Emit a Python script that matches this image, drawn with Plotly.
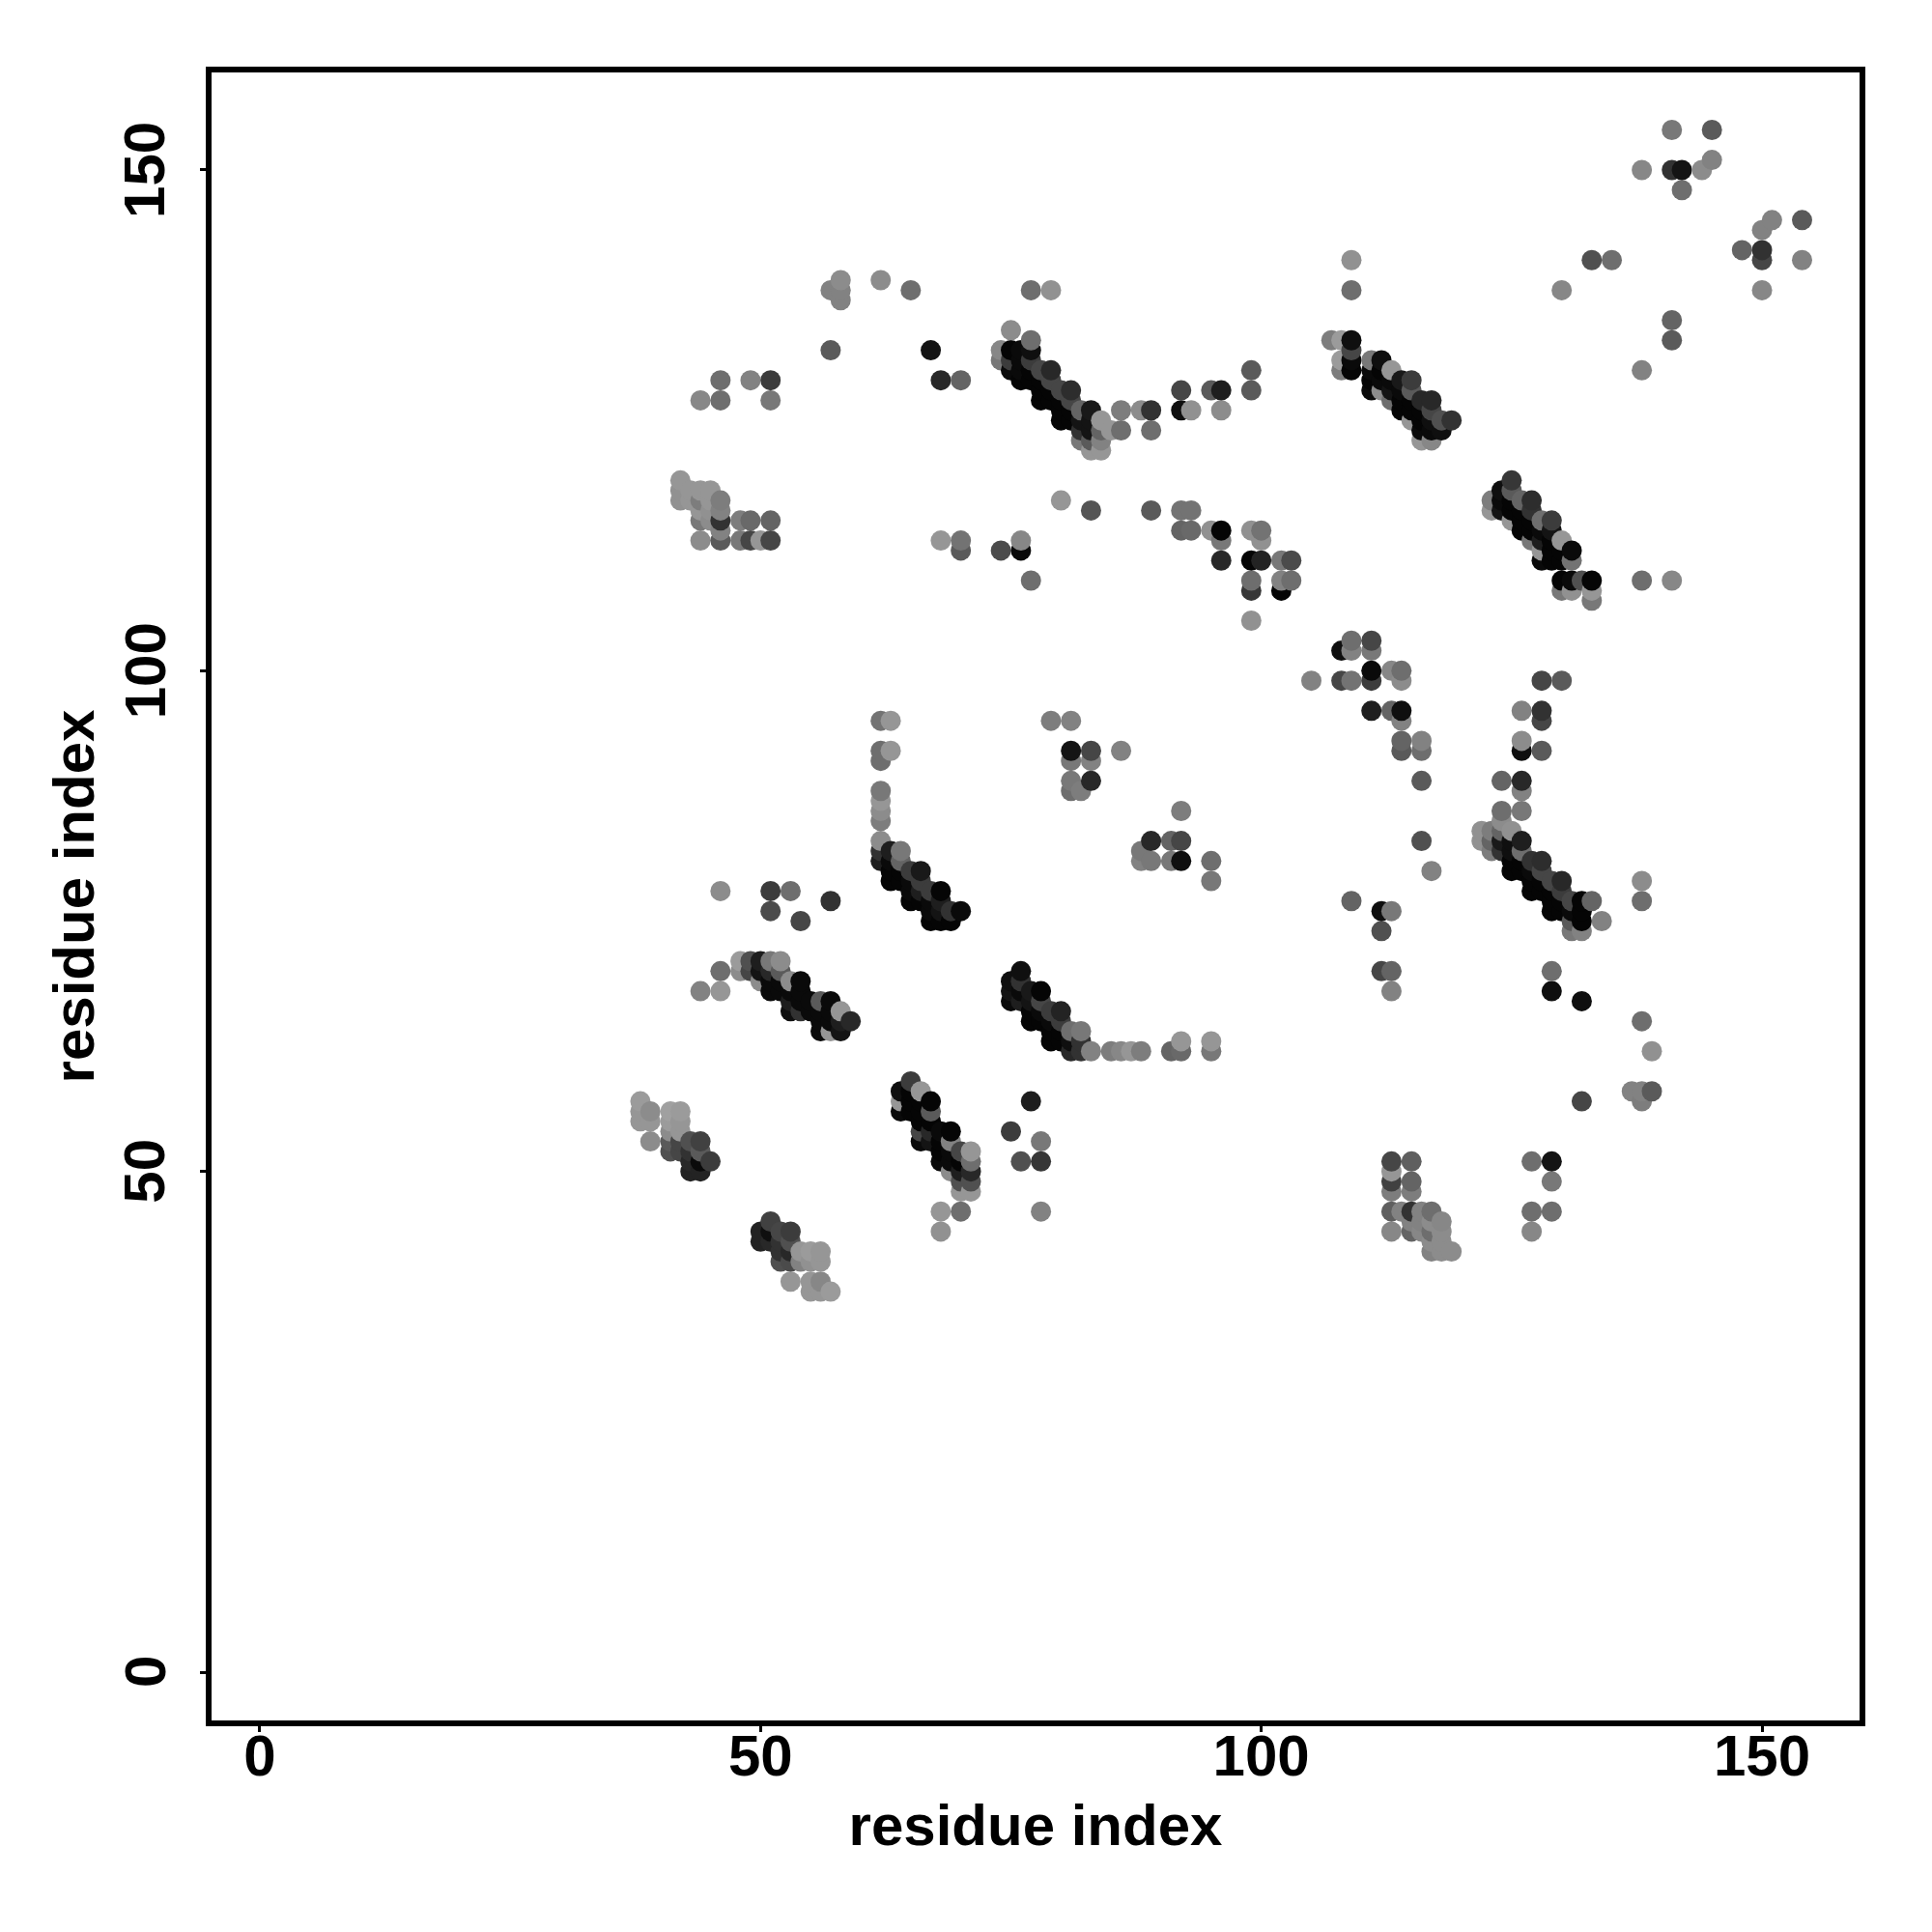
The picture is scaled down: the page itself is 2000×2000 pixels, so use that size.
import plotly.graph_objects as go

# Each record: residue i, residue j, shade (0 = strongest contact, 150 = weakest)
cluster_a = [(38,57,155),(38,56,150),(38,55,150),(39,56,140),(39,55,150),(39,53,140),
 (41,56,160),(41,55,155),(41,54,140),(41,53,90),(41,52,80),
 (42,56,155),(42,55,150),(42,54,150),(42,53,70),(42,52,70),
 (43,53,80),(43,52,50),(43,51,40),(43,50,35),
 (44,53,65),(44,52,90),(44,51,10),(44,50,35),(45,51,60)]
cluster_b = [(50,44,35),(50,43,35),(51,45,65),(51,44,15),(51,43,40),(52,44,70),(52,43,50),(52,42,50),(52,41,80),
 (53,44,60),(53,43,80),(53,42,40),(53,41,75),(53,39,150),(54,42,150),(54,41,130),(55,42,155),(55,41,145),
 (55,39,150),(55,38,150),(56,42,150),(56,41,150),(56,39,135),(56,38,150),(57,38,155)]
cluster_c = [(64,58,15),(64,57,150),(64,56,10),(65,59,60),(65,58,5),(65,57,5),(65,56,5),(66,58,150),(66,57,5),
 (66,56,5),(66,55,5),(66,54,70),(66,53,10),(67,57,5),(67,56,90),(67,55,5),(67,54,40),(67,53,20),
 (68,54,10),(68,53,5),(68,52,5),(68,51,10),(68,46,150),(68,44,145),(69,54,5),(69,53,130),(69,52,10),
 (69,51,10),(69,50,140),(70,52,70),(70,51,5),(70,50,30),(70,49,80),(70,48,150),(70,46,110),
 (71,52,150),(71,51,110),(71,50,40),(71,49,80),(71,48,150)]
cluster_d = [(44,68,130),(46,70,110),(46,68,150),(46,78,140),(48,71,155),(48,70,140),(49,71,80),(49,70,70),
 (50,71,30),(50,70,20),(50,69,140),(51,78,60),(51,76,75),(51,71,120),(51,70,40),(51,69,10),(51,68,10),
 (52,71,140),(52,70,90),(52,69,10),(52,68,10),(53,78,110),(53,69,140),(53,68,10),(53,67,30),(53,66,15),
 (54,75,70),(54,69,10),(54,68,10),(54,67,10),(54,66,50),(55,67,10),(55,66,10),(56,67,90),(56,66,10),
 (56,65,10),(56,64,10),(57,77,50),(57,67,10),(57,66,10),(57,65,10),(57,64,150),(58,66,150),(58,65,30),
 (58,64,20),(59,65,40)]
cluster_e = [(62,95,115),(62,92,110),(62,91,110),(62,88,120),(62,87,150),(62,86,140),(62,85,125),(62,83,140),
 (62,82,50),(62,81,30),(63,95,150),(63,92,150),(63,82,30),(63,81,10),(63,80,5),(63,79,5),(64,82,120),
 (64,81,100),(64,80,5),(64,79,5),(65,80,60),(65,79,10),(65,78,10),(65,77,5),(66,80,25),(66,79,60),
 (66,78,30),(66,77,5),(67,78,60),(67,77,10),(67,76,10),(67,75,5),(68,78,5),(68,77,30),(68,76,20),
 (68,75,5),(69,76,50),(69,75,5),(70,76,10)]
cluster_f = [(75,69,15),(75,68,20),(75,67,10),(75,54,60),(76,70,15),(76,69,50),(76,68,10),(76,67,30),(76,51,80),
 (77,68,25),(77,67,20),(77,66,5),(77,65,5),(77,57,30),(78,68,5),(78,67,70),(78,66,10),(78,65,5),
 (78,53,120),(78,51,55),(78,46,130),(79,66,60),(79,65,10),(79,64,5),(79,63,5),(80,66,35),(80,65,60),
 (80,64,5),(80,63,5),(81,64,110),(81,63,15),(81,62,40),(82,64,120),(82,63,50),(82,62,50),(83,62,130),
 (85,62,125),(86,62,135),(87,62,150),(88,62,125),(91,62,100),(92,63,150),(92,62,105),(95,63,150),(95,62,120)]
cluster_g = [(79,95,125),(81,95,130),(81,92,20),(81,91,120),(81,89,120),(81,88,110),(82,88,125),(83,92,70),
 (83,91,130),(83,89,40),(86,92,130),(88,82,120),(88,81,130),(89,83,40),(89,81,120),(91,83,100),(91,81,120),
 (92,86,125),(92,83,70),(92,81,15),(95,81,110),(95,79,120)]
cluster_h = [(42,119,150),(42,118,145),(42,117,145),(43,118,150),(43,117,150),(44,118,150),(44,117,125),
 (44,116,150),(44,115,120),(44,113,140),(45,118,150),(45,117,150),(45,116,145),(45,115,140),(46,117,125),
 (46,116,130),(46,115,50),(46,114,130),(46,113,90),(48,115,125),(48,113,120),(49,115,105),(49,113,70),
 (50,113,150),(51,115,100),(51,113,70),(44,127,135),(46,127,110),(46,129,110),(49,129,130),(51,129,60),
 (51,127,120),(57,132,90),(57,138,130),(58,139,140),(58,138,130),(58,137,130),(62,139,140),(65,138,110),
 (67,132,20),(68,129,40),(70,129,100)]
cluster_i = [(68,113,150),(70,113,115),(70,112,90),(74,112,75),(76,112,10),(76,113,135),(77,109,110),(80,117,150),
 (83,116,85),(89,116,90),(92,116,115),(93,116,115),(92,114,100),(93,114,105),(95,114,145),(96,114,5),
 (96,113,120),(96,111,40),(99,114,145),(100,114,115),(100,113,145),(99,111,5),(100,111,35),(102,111,120),
 (103,111,75),(99,109,110),(99,108,55),(102,109,130),(103,109,110),(102,108,5),(99,105,145)]
cluster_j = [(77,138,110),(79,138,145),(75,134,140),(74,132,135),(74,131,120),(75,132,5),(75,131,60),(75,130,10),
 (76,132,10),(76,131,10),(76,130,10),(76,129,5),(77,133,110),(77,132,15),(77,131,60),(77,130,5),(77,129,5),
 (78,130,70),(78,129,5),(78,128,5),(78,127,5),(79,130,40),(79,129,70),(79,128,5),(79,127,5),(80,128,70),
 (80,127,5),(80,126,5),(80,125,5),(81,128,45),(81,127,70),(81,126,5),(81,125,5),(82,126,100),(82,125,20),
 (82,124,50),(82,123,120),(83,126,25),(83,125,20),(83,124,20),(83,123,90),(83,122,150),(84,125,150),
 (84,124,100),(84,123,130),(84,122,150),(85,124,150),(86,126,125),(86,124,110),(88,126,140),(89,126,50),
 (89,124,110),(92,128,70),(92,126,15),(93,126,145),(95,128,90),(96,128,30),(96,126,140),(99,130,90),(99,128,90)]
cluster_k = [(109,141,145),(109,138,110),(107,133,125),(108,133,155),(109,133,15),(109,132,70),(109,131,10),
 (109,130,5),(108,131,155),(108,130,125),(111,131,120),(111,130,10),(111,129,5),(111,128,10),(112,131,15),
 (112,130,5),(112,129,10),(112,128,140),(113,130,150),(113,129,10),(113,128,20),(113,127,110),(114,129,25),
 (114,128,10),(114,127,5),(114,126,5),(115,129,60),(115,128,90),(115,127,5),(115,126,5),(115,125,150),
 (116,127,40),(116,126,5),(116,125,5),(116,124,10),(116,123,150),(117,127,40),(117,126,70),(117,125,15),
 (117,124,10),(117,123,135),(118,125,80),(118,124,15),(119,125,50)]
cluster_l = [(123,117,125),(123,116,150),(124,118,15),(124,117,10),(124,116,20),(125,119,55),(125,118,90),(125,117,5),
 (125,116,5),(125,115,150),(126,117,100),(126,116,5),(126,115,5),(126,114,5),(127,117,45),(127,116,50),
 (127,115,5),(127,114,5),(127,113,120),(128,115,110),(128,114,10),(128,113,30),(128,112,150),(128,111,10),
 (129,115,60),(129,114,20),(129,113,5),(129,112,5),(129,111,5),(130,113,150),(130,112,5),(130,111,5),
 (130,109,5),(130,108,120),(131,112,10),(131,111,115),(131,109,10),(131,108,145),(132,109,80),(133,109,5),
 (133,108,150),(133,107,120),(138,109,110),(141,109,135)]
cluster_m = [(105,99,130),(108,102,15),(109,103,110),(109,102,130),(108,99,70),(109,99,115),(111,103,70),(111,102,120),
 (111,100,10),(111,99,60),(111,96,30),(113,100,135),(114,100,110),(114,99,140),(113,96,100),(114,96,15),
 (114,95,130),(114,93,100),(114,92,90),(116,93,130),(116,92,110),(116,89,90),(116,83,80),(117,80,130),
 (109,77,100),(112,76,15),(113,76,120),(112,74,80),(112,70,70),(113,70,100),(113,68,130)]
cluster_n = [(128,99,70),(130,99,90),(126,96,130),(128,96,50),(128,95,70),(126,93,140),(126,92,15),(128,92,90),
 (124,89,100),(126,89,40),(126,88,130),(126,86,120),(122,84,145),(122,83,145),(123,84,125),(123,83,100),
 (123,82,125),(124,86,110),(124,85,140),(124,84,100),(124,83,25),(124,82,50),(125,84,145),(125,83,15),
 (125,82,15),(125,81,5),(125,80,5),(126,83,30),(126,82,110),(126,81,5),(126,80,5),(127,81,50),(127,80,10),
 (127,79,5),(127,78,5),(128,81,45),(128,80,70),(128,79,5),(128,78,5),(129,79,70),(129,78,5),(129,77,5),
 (129,76,5),(130,79,40),(130,78,60),(130,77,5),(130,76,5),(131,77,70),(131,76,10),(131,75,90),(131,74,120),
 (132,77,5),(132,76,5),(132,75,5),(132,74,130),(133,77,100),(134,75,130),(129,70,110),(129,68,15),(132,67,15)]
cluster_o = [(138,79,140),(138,77,110),(138,65,110),(139,62,145),(137,58,130),(138,58,130),(139,58,90),(138,57,125),(132,57,70)]
cluster_p = [(113,51,70),(113,50,150),(113,49,65),(113,48,125),(113,46,95),(113,44,135),(114,46,130),(115,51,95),
 (115,49,100),(115,48,125),(115,46,50),(115,45,130),(115,44,100),(116,46,130),(116,45,130),(116,44,135),
 (117,46,110),(117,45,140),(117,44,110),(117,43,140),(117,42,130),(118,45,135),(118,44,140),(118,43,140),
 (118,42,140),(119,42,140),(127,51,110),(127,46,110),(127,44,135),(129,51,20),(129,49,120),(129,46,110)]
cluster_q = [(141,154,120),(145,154,90),(138,150,135),(141,150,50),(142,150,20),(144,150,140),(145,151,130),(142,148,110),
 (150,144,130),(151,145,130),(154,145,90),(148,142,100),(150,142,50),(150,141,70),(154,141,130),(150,138,135),
 (130,138,135),(133,141,80),(135,141,110),(141,135,100),(141,133,90),(138,130,130)]

x_ticks = [0, 50, 100, 150]
y_ticks = [0, 50, 100, 150]
x_title = "residue index"
y_title = "residue index"

records = sorted(cluster_a + cluster_b + cluster_c + cluster_d + cluster_e + cluster_f + cluster_g + cluster_h
                 + cluster_i + cluster_j + cluster_k + cluster_l + cluster_m + cluster_n + cluster_o + cluster_p
                 + cluster_q, key=lambda r: (r[0], r[1]))
xs = [r[0] for r in records]
ys = [r[1] for r in records]
shades = [r[2] for r in records]

fig = go.Figure(go.Scatter(
    x=xs, y=ys, mode="markers",
    marker=dict(size=21, color=shades, cmin=0, cmax=255, line=dict(width=0),
                colorscale=[[0, "rgb(0,0,0)"], [1, "rgb(255,255,255)"]], showscale=False),
))
BOLD = dict(family="Liberation Sans", size=60, color="black", weight="bold")
axis = dict(tickmode="array", showgrid=False, zeroline=False, showline=True, mirror=True,
            linecolor="black", linewidth=6, ticks="outside", ticklen=6, tickwidth=3, tickcolor="black")
fig.update_xaxes(**axis, range=[-4.82, 159.74], tickvals=x_ticks, ticktext=[str(v) for v in x_ticks],
                 tickfont=BOLD, ticklabelstandoff=-27,
                 title=dict(text=x_title, standoff=20, font=BOLD))
fig.update_yaxes(**axis, range=[-4.82, 159.74], tickvals=y_ticks, showticklabels=False,
                 title=dict(text=y_title, standoff=92, font=BOLD))
for v in y_ticks:
    fig.add_annotation(text=str(v), x=0, xref="paper", y=v, yref="y", xshift=-69, textangle=-90,
                       xanchor="center", yanchor="middle", showarrow=False, font=BOLD)
fig.update_layout(width=2000, height=2000, margin=dict(l=211, r=83, t=67, b=227, autoexpand=False),
                  paper_bgcolor="white", plot_bgcolor="white", showlegend=False)
fig.write_html("out.html")
